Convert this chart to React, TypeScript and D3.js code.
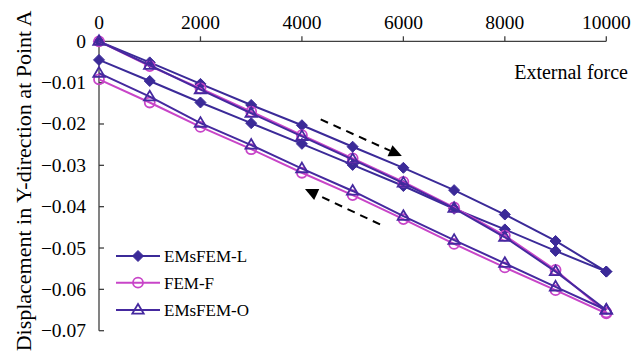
import React from "react";
import * as d3 from "d3";

const forces = [0, 1000, 2000, 3000, 4000, 5000, 6000, 7000, 8000, 9000, 10000];
const xTicks = [0, 2000, 4000, 6000, 8000, 10000];
const yTicks = [0, -0.01, -0.02, -0.03, -0.04, -0.05, -0.06, -0.07];

// loading (0 -> 10000) and unloading (10000 -> 0) values
const emsL_load = [0, -0.0051, -0.0103, -0.0154, -0.0203, -0.0255, -0.0306, -0.036, -0.0419, -0.0483, -0.0557];
const emsL_unload = [-0.0045, -0.0096, -0.0148, -0.0198, -0.0248, -0.0299, -0.035, -0.0405, -0.0455, -0.0507, -0.0557];
const femF_load = [0, -0.006, -0.0114, -0.017, -0.0227, -0.0283, -0.034, -0.0402, -0.047, -0.0553, -0.0656];
const femF_unload = [-0.0092, -0.0148, -0.0207, -0.0261, -0.0318, -0.0372, -0.043, -0.049, -0.0547, -0.0602, -0.0658];
const emsO_load = [0, -0.0058, -0.0117, -0.0174, -0.023, -0.0286, -0.0343, -0.0404, -0.0474, -0.0557, -0.065];
const emsO_unload = [-0.0077, -0.0134, -0.0198, -0.0251, -0.0308, -0.0362, -0.0423, -0.0481, -0.0537, -0.0594, -0.065];

const seriesNames = ["EMsFEM-L", "FEM-F", "EMsFEM-O"];

// arrows [fromForce, fromDisp, toForce, toDisp]
const arrowLoad = [4370, -0.0189, 5970, -0.02775];
const arrowUnload = [5540, -0.0443, 4060, -0.0357];

const W = 642;
const H = 358;
const FONT = "Liberation Serif, Times New Roman, serif";
const ts: React.CSSProperties = { fontFamily: FONT };

export default function App() {
  const x = d3.scaleLinear().domain([0, 10000]).range([99, 606.3]);
  const y = d3.scaleLinear().domain([-0.07, 0]).range([330.7, 41.3]);

  const series = [
    { name: seriesNames[0], load: emsL_load, unload: emsL_unload, color: "#3b2a98", marker: "diamond" },
    { name: seriesNames[1], load: femF_load, unload: femF_unload, color: "#c845c8", marker: "circle" },
    { name: seriesNames[2], load: emsO_load, unload: emsO_unload, color: "#45299f", marker: "triangle" },
  ];

  const line = d3
    .line<[number, number]>()
    .x((d) => x(d[0]))
    .y((d) => y(d[1]));

  const marker = (type: string, cx: number, cy: number, color: string, key: string) => {
    if (type === "diamond") {
      const s = 5.5;
      return (
        <path key={key} d={`M${cx},${cy - s}L${cx + s},${cy}L${cx},${cy + s}L${cx - s},${cy}Z`} fill={color} stroke={color} strokeWidth={1} />
      );
    }
    if (type === "circle") {
      return <circle key={key} cx={cx} cy={cy} r={5} fill="none" stroke={color} strokeWidth={1.8} />;
    }
    const s = 6;
    return (
      <path
        key={key}
        d={`M${cx},${cy - s}L${cx + s * 0.95},${cy + s * 0.6}L${cx - s * 0.95},${cy + s * 0.6}Z`}
        fill="none"
        stroke={color}
        strokeWidth={1.8}
      />
    );
  };

  const arrow = (a: number[], key: string) => {
    const x1 = x(a[0]);
    const y1 = y(a[1]);
    const x2 = x(a[2]);
    const y2 = y(a[3]);
    const ang = Math.atan2(y2 - y1, x2 - x1);
    const L = 13;
    const hw = 6;
    const bx = x2 - L * Math.cos(ang);
    const by = y2 - L * Math.sin(ang);
    const px = -Math.sin(ang) * hw;
    const py = Math.cos(ang) * hw;
    return (
      <g key={key}>
        <line x1={x1} y1={y1} x2={bx} y2={by} stroke="#000" strokeWidth={2} strokeDasharray="8,6" />
        <path d={`M${x2},${y2}L${bx + px},${by + py}L${bx - px},${by - py}Z`} fill="#000" />
      </g>
    );
  };

  const legendY = [256, 282.7, 310];

  return (
    <svg width={W} height={H} style={{ position: "absolute", left: 0, top: 0, background: "#fff" }}>
      <rect x={0} y={0} width={W} height={H} fill="#fff" />
      {/* axes */}
      <line x1={x(0)} y1={y(0)} x2={x(10000)} y2={y(0)} stroke="#404040" strokeWidth={1.3} />
      <line x1={x(0)} y1={y(0)} x2={x(0)} y2={y(-0.07)} stroke="#404040" strokeWidth={1.3} />
      {xTicks.map((t) => (
        <g key={"xt" + t}>
          <line x1={x(t)} y1={y(0)} x2={x(t)} y2={y(0) - 5} stroke="#404040" strokeWidth={1.3} />
          <text x={x(t)} y={28.5} textAnchor="middle" fontSize={19.5} fill="#000" style={ts}>
            {t}
          </text>
        </g>
      ))}
      {yTicks.map((t) => (
        <g key={"yt" + t}>
          <line x1={x(0)} y1={y(t)} x2={x(0) + 5} y2={y(t)} stroke="#404040" strokeWidth={1.3} />
          <text x={86} y={y(t) + 6.5} textAnchor="end" fontSize={19.5} fill="#000" style={ts}>
            {t === 0 ? "0" : d3.format(".2f")(t)}
          </text>
        </g>
      ))}
      <text x={628} y={78.5} textAnchor="end" fontSize={20} fill="#000" style={ts}>
        External force
      </text>
      <text transform={`translate(31,181) rotate(-90)`} textAnchor="middle" fontSize={22} fill="#000" style={ts}>
        Displacement in Y-direction at Point A
      </text>

      {/* series */}
      {series.map((s) => {
        const pts: [number, number][] = [
          ...forces.map((f, i) => [f, s.load[i]] as [number, number]),
          ...forces
            .map((f, i) => [f, s.unload[i]] as [number, number])
            .reverse(),
        ];
        return (
          <g key={s.name}>
            <path d={line(pts) || ""} fill="none" stroke={s.color} strokeWidth={2} />
            {pts.map((p, i) => marker(s.marker, x(p[0]), y(p[1]), s.color, s.name + i))}
          </g>
        );
      })}

      {arrow(arrowLoad, "a1")}
      {arrow(arrowUnload, "a2")}

      {/* legend */}
      {series.map((s, i) => (
        <g key={"lg" + s.name}>
          <line x1={116} y1={legendY[i]} x2={160} y2={legendY[i]} stroke={s.color} strokeWidth={2} />
          {marker(s.marker, 138, legendY[i], s.color, "lm" + i)}
          <text x={164} y={legendY[i] + 6} fontSize={17} fill="#000" style={ts}>
            {s.name}
          </text>
        </g>
      ))}
    </svg>
  );
}
